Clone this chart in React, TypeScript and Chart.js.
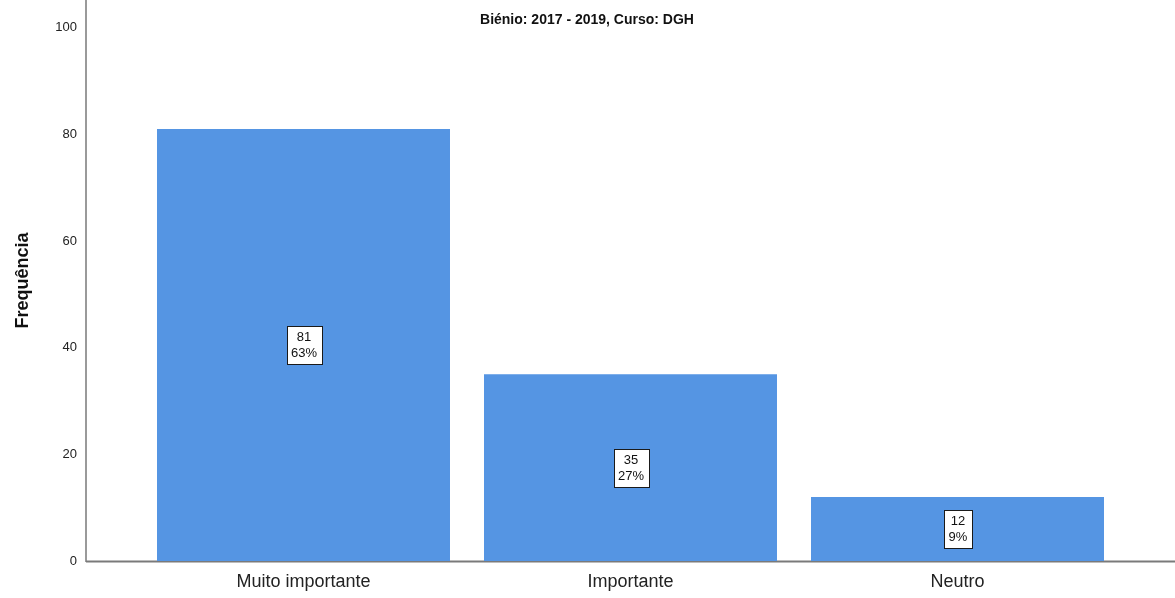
import React, { useEffect, useRef } from "react";
import { Chart, registerables } from "chart.js";

Chart.register(...registerables);

const categories = ["Muito importante", "Importante", "Neutro"];
const frequencies = [81, 35, 12];
const percentLabels = ["63%", "27%", "9%"];
const yTicks = [0, 20, 40, 60, 80, 100];
const chartTitle = "Biénio: 2017 - 2019, Curso: DGH";
const yAxisTitle = "Frequência";

const FONT = "'Liberation Sans', Arial, sans-serif";
const AXIS_X = 86;

const axesPlugin = {
  id: "customAxes",
  beforeDatasetsDraw(chart: any) {
    const ctx = chart.ctx;
    const { bottom } = chart.chartArea;
    ctx.save();
    ctx.strokeStyle = "#9a9a9a";
    ctx.lineWidth = 2;
    ctx.beginPath();
    ctx.moveTo(AXIS_X, 0);
    ctx.lineTo(AXIS_X, bottom + 1);
    ctx.stroke();
    ctx.strokeStyle = "#7a7a7a";
    ctx.beginPath();
    ctx.moveTo(AXIS_X, bottom + 0.5);
    ctx.lineTo(chart.width, bottom + 0.5);
    ctx.stroke();
    ctx.restore();
  },
};

const labelPlugin = {
  id: "barLabels",
  afterDatasetsDraw(chart: any) {
    const ctx = chart.ctx;
    const meta = chart.getDatasetMeta(0);
    ctx.save();
    ctx.font = `13px ${FONT}`;
    meta.data.forEach((bar: any, i: number) => {
      const l1 = String(frequencies[i]);
      const l2 = percentLabels[i];
      const w = Math.round(Math.max(ctx.measureText(l1).width, ctx.measureText(l2).width) + 9);
      const h = 38;
      const cx = Math.round(bar.x);
      const cy = Math.round((bar.y + bar.base) / 2);
      const x0 = Math.round(cx - w / 2) + 0.5;
      const y0 = Math.round(cy - h / 2) + 0.5;
      ctx.fillStyle = "#ffffff";
      ctx.fillRect(x0, y0, w, h);
      ctx.strokeStyle = "#1a1a1a";
      ctx.lineWidth = 1;
      ctx.strokeRect(x0, y0, w, h);
      ctx.fillStyle = "#111111";
      ctx.textAlign = "center";
      ctx.textBaseline = "middle";
      ctx.fillText(l1, cx, cy - 8);
      ctx.fillText(l2, cx, cy + 8);
    });
    ctx.restore();
  },
};

const titlePlugin = {
  id: "innerTitle",
  afterDraw(chart: any) {
    const ctx = chart.ctx;
    ctx.save();
    ctx.font = `bold 14px ${FONT}`;
    ctx.fillStyle = "#111111";
    ctx.textAlign = "center";
    ctx.textBaseline = "middle";
    ctx.fillText(chartTitle, 587, 20);
    ctx.restore();
  },
};

export default function App() {
  const ref = useRef<HTMLCanvasElement | null>(null);
  useEffect(() => {
    document.body.style.margin = "0";
    const canvas = ref.current;
    if (!canvas) return;
    const chart = new Chart(canvas, {
      type: "bar",
      data: {
        labels: categories,
        datasets: [
          {
            data: frequencies,
            backgroundColor: "#5595e3",
            borderWidth: 0,
            barPercentage: 0.896,
            categoryPercentage: 1,
          },
        ],
      },
      plugins: [axesPlugin, labelPlugin, titlePlugin],
      options: {
        animation: false,
        responsive: false,
        devicePixelRatio: 1,
        layout: { padding: { left: 0, top: 0, right: 54, bottom: 0 } },
        plugins: {
          legend: { display: false },
          tooltip: { enabled: false },
          title: { display: false },
        },
        scales: {
          x: {
            type: "category",
            offset: true,
            grid: { display: false, drawTicks: false },
            border: { display: false },
            afterFit: (axis: any) => {
              axis.height = 37;
              axis.paddingLeft = 0;
              axis.paddingRight = 0;
            },
            ticks: {
              autoSkip: false,
              maxRotation: 0,
              padding: 10,
              color: "#222222",
              font: { family: FONT, size: 18 },
            },
          },
          y: {
            type: "linear",
            min: 0,
            max: 105.2,
            grid: { display: false, drawTicks: false },
            border: { display: false },
            afterBuildTicks: (axis: any) => {
              axis.ticks = yTicks.map((v) => ({ value: v }));
            },
            afterFit: (axis: any) => {
              axis.width = 140;
              axis.paddingTop = 0;
              axis.paddingBottom = 0;
            },
            ticks: {
              padding: 63,
              color: "#222222",
              font: { family: FONT, size: 13 },
            },
            title: {
              display: true,
              text: yAxisTitle,
              color: "#111111",
              padding: { top: 12, bottom: 0 },
              font: { family: FONT, size: 18, weight: "bold" },
            },
          },
        },
      },
    } as any);
    return () => chart.destroy();
  }, []);
  return (
    <div style={{ width: 1175, height: 598 }}>
      <canvas ref={ref} width={1175} height={598} style={{ display: "block" }} />
    </div>
  );
}
